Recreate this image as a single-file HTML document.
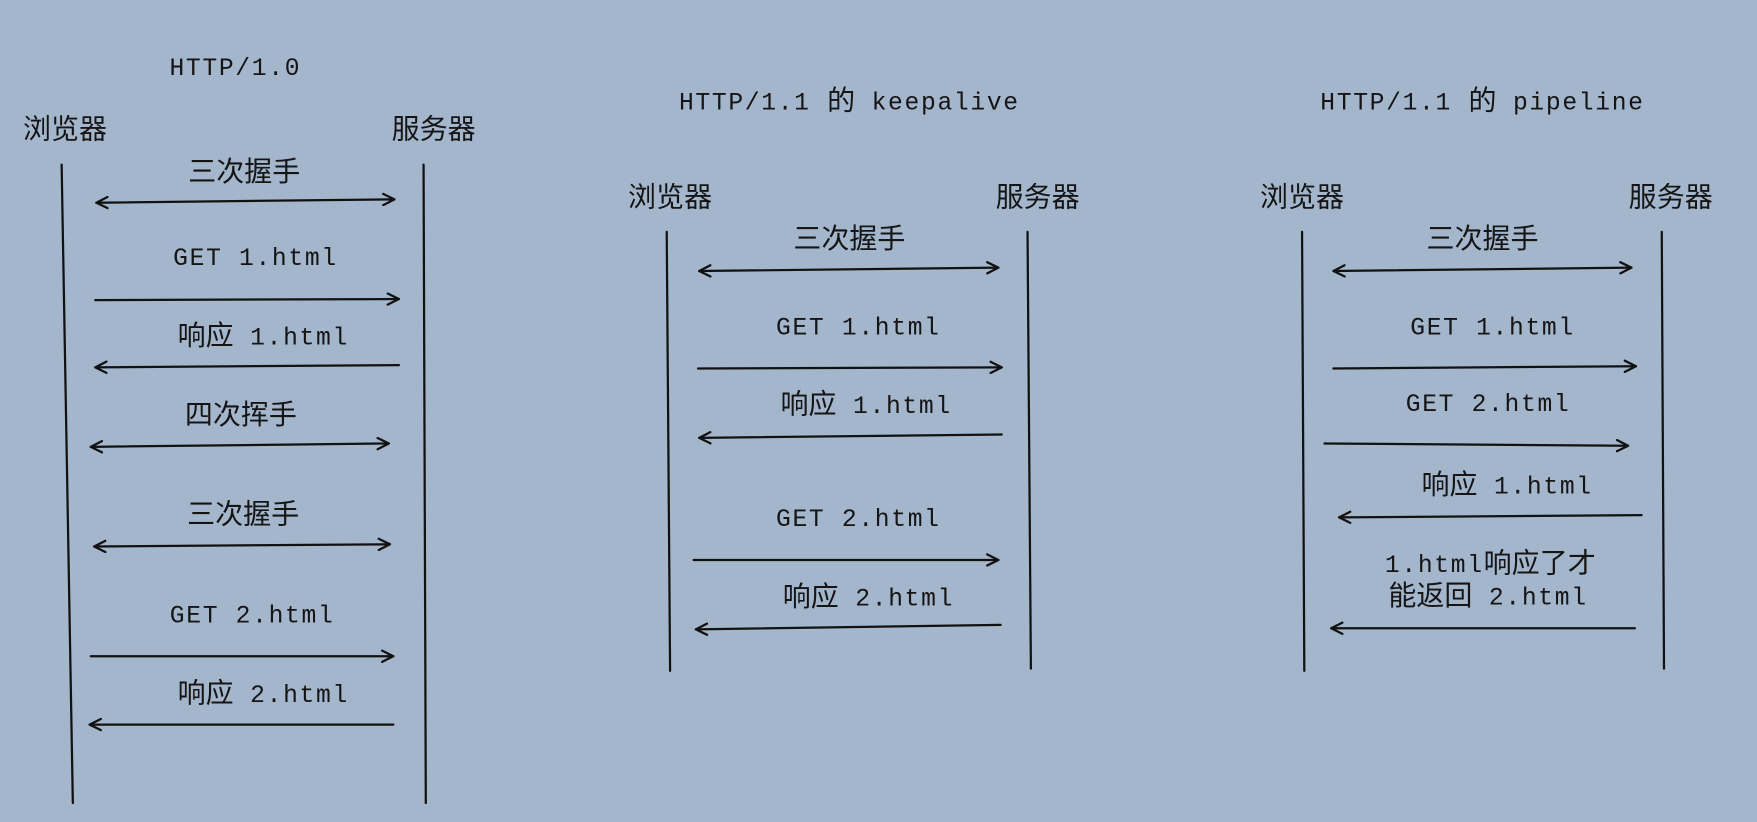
<!DOCTYPE html>
<html><head><meta charset="utf-8"><style>
html,body{margin:0;padding:0;background:#a4b6cc;}
svg{display:block}
text{font-family:"Liberation Mono","Noto Sans CJK SC",monospace;font-size:22px;letter-spacing:1.5px;fill:#151515;text-anchor:middle;dominant-baseline:middle}
.c{font-family:"Liberation Sans","Noto Sans CJK SC",sans-serif;font-size:25px;letter-spacing:0}
line,polyline{stroke:#111;stroke-width:2;fill:none;stroke-linecap:round;stroke-linejoin:round}
</style></head><body>
<svg width="1757" height="822" viewBox="0 0 1568 734" preserveAspectRatio="none" xmlns="http://www.w3.org/2000/svg">
<defs>
<marker id="a" viewBox="0 0 12 12" refX="11" refY="6" markerWidth="12" markerHeight="12" markerUnits="userSpaceOnUse" orient="auto-start-reverse">
<polyline points="1,1 11,6 1,11" style="stroke:#111;stroke-width:2;fill:none"/>
</marker>
</defs>
<!-- Column 1 -->
<text x="210" y="61">HTTP/1.0</text>
<text class="c" x="58" y="117">浏览器</text>
<text class="c" x="387" y="117">服务器</text>
<line x1="55" y1="147" x2="65" y2="717"/>
<line x1="378" y1="147" x2="380" y2="717"/>
<text class="c" x="218" y="155">三次握手</text>
<line x1="86" y1="181" x2="352" y2="178" marker-start="url(#a)" marker-end="url(#a)"/>
<text x="228" y="231">GET 1.html</text>
<line x1="85" y1="268" x2="356" y2="267" marker-end="url(#a)"/>
<text x="235" y="302"><tspan class="c">响应</tspan> 1.html</text>
<line x1="356" y1="326" x2="85" y2="328" marker-end="url(#a)"/>
<text class="c" x="215" y="372">四次挥手</text>
<line x1="81" y1="399" x2="347" y2="396" marker-start="url(#a)" marker-end="url(#a)"/>
<text class="c" x="217" y="461">三次握手</text>
<line x1="84" y1="488" x2="348" y2="486" marker-start="url(#a)" marker-end="url(#a)"/>
<text x="225" y="550">GET 2.html</text>
<line x1="81" y1="586" x2="351" y2="586" marker-end="url(#a)"/>
<text x="235" y="621"><tspan class="c">响应</tspan> 2.html</text>
<line x1="351" y1="647" x2="80" y2="647" marker-end="url(#a)"/>
<!-- Column 2 -->
<text x="758" y="92">HTTP/1.1 <tspan class="c">的</tspan> keepalive</text>
<text class="c" x="598" y="178">浏览器</text>
<text class="c" x="926" y="178">服务器</text>
<line x1="595" y1="207" x2="598" y2="599"/>
<line x1="917" y1="207" x2="920" y2="597"/>
<text class="c" x="758" y="215">三次握手</text>
<line x1="624" y1="242" x2="891" y2="239" marker-start="url(#a)" marker-end="url(#a)"/>
<text x="766" y="293">GET 1.html</text>
<line x1="623" y1="329" x2="894" y2="328" marker-end="url(#a)"/>
<text x="773" y="363"><tspan class="c">响应</tspan> 1.html</text>
<line x1="894" y1="388" x2="624" y2="391" marker-end="url(#a)"/>
<text x="766" y="464">GET 2.html</text>
<line x1="619" y1="500" x2="891" y2="500" marker-end="url(#a)"/>
<text x="775" y="535"><tspan class="c">响应</tspan> 2.html</text>
<line x1="893" y1="558" x2="621" y2="562" marker-end="url(#a)"/>
<!-- Column 3 -->
<text x="1323" y="92">HTTP/1.1 <tspan class="c">的</tspan> pipeline</text>
<text class="c" x="1162" y="178">浏览器</text>
<text class="c" x="1491" y="178">服务器</text>
<line x1="1162" y1="207" x2="1164" y2="599"/>
<line x1="1483" y1="207" x2="1485" y2="597"/>
<text class="c" x="1323" y="215">三次握手</text>
<line x1="1190" y1="242" x2="1456" y2="239" marker-start="url(#a)" marker-end="url(#a)"/>
<text x="1332" y="293">GET 1.html</text>
<line x1="1190" y1="329" x2="1460" y2="327" marker-end="url(#a)"/>
<text x="1328" y="361">GET 2.html</text>
<line x1="1182" y1="396" x2="1453" y2="398" marker-end="url(#a)"/>
<text x="1345" y="435"><tspan class="c">响应</tspan> 1.html</text>
<line x1="1465" y1="460" x2="1195" y2="462" marker-end="url(#a)"/>
<text x="1330" y="505">1.html<tspan class="c">响应了才</tspan></text>
<text x="1328" y="534"><tspan class="c">能返回</tspan> 2.html</text>
<line x1="1459" y1="561" x2="1188" y2="561" marker-end="url(#a)"/>
</svg>
</body></html>
